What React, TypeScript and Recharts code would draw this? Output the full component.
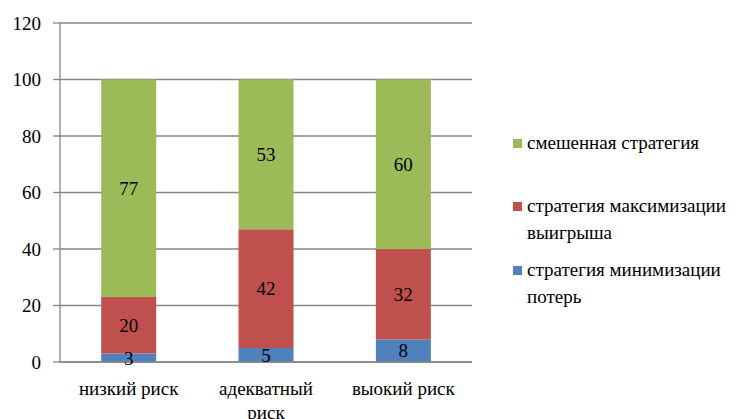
import { BarChart, Bar, XAxis, YAxis, CartesianGrid, LabelList } from "recharts";

const categories = ["низкий риск", "адекватный риск", "выокий риск"];
const minLoss = [3, 5, 8];
const maxGain = [20, 42, 32];
const mixed = [77, 53, 60];
const yTicks = [0, 20, 40, 60, 80, 100, 120];
const boundaries = [0, 1, 2, 3];

const seriesNames = {
  minLoss: "стратегия минимизации потерь",
  maxGain: "стратегия максимизации выигрыша",
  mixed: "смешенная стратегия",
};

const colors = { minLoss: "#4F81BD", maxGain: "#C0504D", mixed: "#9BBB59" };

const data = categories.map((name, i) => ({
  name,
  minLoss: minLoss[i],
  maxGain: maxGain[i],
  mixed: mixed[i],
}));

const font = "'Times New Roman', Tinos, 'Liberation Serif', 'DejaVu Serif', serif";
const gridColor = "#868686";
const fs = 19;

// wrap long category names onto two lines, like the original
function splitLabel(s: string) {
  if (s.length <= 12) return [s];
  const i = s.lastIndexOf(" ");
  return [s.slice(0, i), s.slice(i + 1)];
}

function CategoryTick(props: any) {
  const { x, y, payload } = props;
  const lines = splitLabel(payload.value);
  return (
    <text x={x} y={y + 25} textAnchor="middle" fontSize={fs} fontFamily={font} fill="#000">
      {lines.map((l, i) => (
        <tspan key={i} x={x} dy={i === 0 ? 0 : 24}>
          {l}
        </tspan>
      ))}
    </text>
  );
}

function LegendBox() {
  const items = [
    { key: "mixed", lines: ["смешенная стратегия"], gap: 36 },
    { key: "maxGain", lines: ["стратегия максимизации", "выигрыша"], gap: 10 },
    { key: "minLoss", lines: ["стратегия минимизации", "потерь"], gap: 0 },
  ] as const;
  return (
    <div
      style={{
        position: "absolute",
        left: 513,
        top: 129,
        fontFamily: font,
        fontSize: fs,
        color: "#000",
        whiteSpace: "nowrap",
      }}
    >
      {items.map((it) => (
        <div key={it.key} style={{ display: "flex", marginBottom: it.gap, lineHeight: "27px" }}>
          <div
            style={{
              width: 9,
              height: 9,
              background: colors[it.key],
              marginTop: 10,
              marginRight: 5,
              flexShrink: 0,
            }}
          />
          <div>
            {it.lines.map((l) => (
              <div key={l}>{l}</div>
            ))}
          </div>
        </div>
      ))}
    </div>
  );
}

export default function App() {
  return (
    <div style={{ position: "absolute", left: 0, top: 0, width: 752, height: 419, background: "#fff" }}>
      <BarChart
        width={752}
        height={419}
        data={data}
        margin={{ top: 23, right: 280, bottom: 0, left: 0 }}
        barCategoryGap="30%"
      >
        <CartesianGrid horizontal vertical={false} stroke={gridColor} strokeWidth={1.3} />
        <XAxis
          xAxisId="cat"
          dataKey="name"
          height={57}
          axisLine={{ stroke: gridColor, strokeWidth: 1.3 }}
          tickLine={false}
          tick={<CategoryTick />}
          interval={0}
        />
        <XAxis
          xAxisId="bounds"
          type="number"
          domain={[0, 3]}
          ticks={boundaries}
          orientation="bottom"
          height={0}
          axisLine={false}
          tick={false}
          tickSize={6}
          tickLine={{ stroke: gridColor, strokeWidth: 1.3 }}
        />
        <YAxis
          width={60}
          domain={[0, 120]}
          ticks={yTicks}
          interval={0}
          tickSize={7}
          tickMargin={12}
          axisLine={{ stroke: gridColor, strokeWidth: 1.3 }}
          tickLine={{ stroke: gridColor, strokeWidth: 1.3 }}
          tick={{ fill: "#000", fontSize: fs, fontFamily: font }}
        />
        {(["minLoss", "maxGain", "mixed"] as const).map((k) => (
          <Bar
            key={k}
            xAxisId="cat"
            dataKey={k}
            name={seriesNames[k]}
            stackId="s"
            fill={colors[k]}
            isAnimationActive={false}
          >
            <LabelList dataKey={k} position="center" fill="#000" fontSize={fs} fontFamily={font} />
          </Bar>
        ))}
      </BarChart>
      <LegendBox />
    </div>
  );
}
